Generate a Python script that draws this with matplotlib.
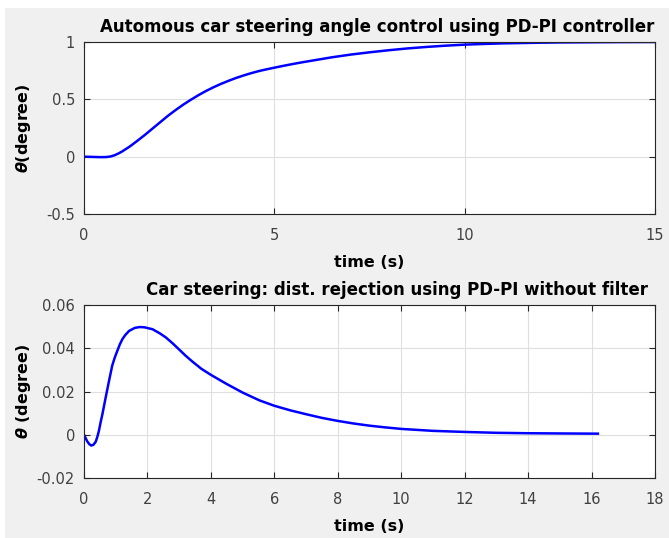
import matplotlib
matplotlib.use("Agg")
import matplotlib.pyplot as plt
from matplotlib.patches import Rectangle

# step response (top panel)
t_step = [0, 0.2, 0.4, 0.5, 0.6, 0.7, 0.8, 0.9, 1.0, 1.2, 1.4, 1.6, 1.8, 2.0,
          2.2, 2.4, 2.6, 2.8, 3.0, 3.2, 3.4, 3.6, 3.8, 4.0, 4.2, 4.4, 4.6,
          4.8, 5.0, 5.25, 5.5, 5.75, 6.0, 6.5, 7.0, 7.5, 8.0, 8.5, 9.0, 9.5,
          10.0, 10.5, 11.0, 11.5, 12.0, 12.5, 13.0, 14.0, 15.0]
y_step = [0, -0.002, -0.004, -0.004, -0.003, 0.002, 0.012, 0.027, 0.045,
          0.088, 0.138, 0.19, 0.245, 0.30, 0.355, 0.405, 0.452, 0.495, 0.535,
          0.572, 0.605, 0.635, 0.662, 0.687, 0.709, 0.729, 0.747, 0.762,
          0.776, 0.793, 0.809, 0.824, 0.838, 0.866, 0.89, 0.91, 0.928, 0.944,
          0.957, 0.968, 0.977, 0.983, 0.988, 0.991, 0.994, 0.996, 0.997,
          0.999, 1.0]

# disturbance response (bottom panel)
t_dist = [0, 0.05, 0.1, 0.17, 0.23, 0.3, 0.37, 0.42, 0.47, 0.52, 0.58, 0.68,
          0.79, 0.89, 0.97, 1.05, 1.13, 1.21, 1.3, 1.42, 1.6, 1.75, 1.9,
          2.16, 2.4, 2.58, 2.8, 3.0, 3.2, 3.42, 3.7, 4.0, 4.47, 5.0, 5.53,
          6.0, 6.5, 7.0, 7.5, 8.0, 8.5, 9.0, 9.5, 10.0, 11.0, 12.0, 13.0,
          14.0, 15.0, 16.2]
y_dist = [0, -0.0015, -0.003, -0.0044, -0.005, -0.0046, -0.0032, -0.001,
          0.0018, 0.0055, 0.0095, 0.017, 0.025, 0.032, 0.0357, 0.0388, 0.0418,
          0.0442, 0.0461, 0.048, 0.0494, 0.0498, 0.0497, 0.0488, 0.0468,
          0.045, 0.0422, 0.0394, 0.0366, 0.0338, 0.0305, 0.0277, 0.0237,
          0.0195, 0.0159, 0.0134, 0.0113, 0.0095, 0.0078, 0.0064, 0.0052,
          0.0042, 0.0034, 0.0027, 0.0018, 0.0013, 0.0009, 0.0007, 0.0006,
          0.0005]

BG = "#f0f0f0"
LINE = "#0000ff"
AX = "#262626"
plt.rcParams["font.family"] = "DejaVu Sans"
plt.rcParams["mathtext.fontset"] = "custom"
plt.rcParams["mathtext.it"] = "DejaVu Sans:italic:bold"
plt.rcParams["mathtext.rm"] = "DejaVu Sans:bold"


def style(ax):
    ax.grid(True, color="#dfdfdf", lw=0.8)
    ax.set_axisbelow(True)
    ax.tick_params(direction="in", top=True, right=True, labelsize=10.5,
                   colors=AX, labelcolor="#404040", length=4, width=0.8)
    ax.tick_params(axis="x", pad=10)
    ax.tick_params(axis="y", pad=6.5)
    for sp in ax.spines.values():
        sp.set_color(AX)
        sp.set_linewidth(0.8)
    ax.yaxis.set_label_coords(-0.09, 0.5)


fig = plt.figure(figsize=(6.69, 5.38), dpi=100, facecolor="white")
# grey MATLAB figure area, with a thin white strip at top and left
fig.patches.append(Rectangle((5 / 669, 0), 1, 1 - 8 / 538, transform=fig.transFigure,
                             facecolor=BG, edgecolor="none", zorder=-1))
a1 = fig.add_axes([84 / 669, 1 - 214 / 538, 571 / 669, 172 / 538])
a2 = fig.add_axes([84 / 669, 1 - 478 / 538, 571 / 669, 173 / 538])

a1.plot(t_step, y_step, color=LINE, lw=1.8)
a1.set_xlim(0, 15)
a1.set_ylim(-0.5, 1)
a1.set_xticks([0, 5, 10, 15])
a1.set_yticks([-0.5, 0, 0.5, 1])
a1.set_yticklabels(["-0.5", "0", "0.5", "1"])
a1.set_title("Automous car steering angle control using PD-PI controller",
             fontsize=12, fontweight="bold", pad=7, x=0.514)
a1.set_xlabel("time (s)", fontsize=11.5, fontweight="bold", labelpad=9)
a1.set_ylabel(r"$\theta$(degree)", fontsize=11.5, fontweight="bold")
style(a1)

a2.plot(t_dist, y_dist, color=LINE, lw=1.8)
a2.set_xlim(0, 18)
a2.set_ylim(-0.02, 0.06)
a2.set_xticks(range(0, 19, 2))
a2.set_yticks([-0.02, 0, 0.02, 0.04, 0.06])
a2.set_yticklabels(["-0.02", "0", "0.02", "0.04", "0.06"])
a2.set_title("Car steering: dist. rejection using PD-PI without filter",
             fontsize=12, fontweight="bold", pad=7, x=0.548)
a2.set_xlabel("time (s)", fontsize=11.5, fontweight="bold", labelpad=9)
a2.set_ylabel(r"$\theta$ (degree)", fontsize=11.5, fontweight="bold")
style(a2)

fig.savefig("out.png", dpi=100, facecolor="white")
